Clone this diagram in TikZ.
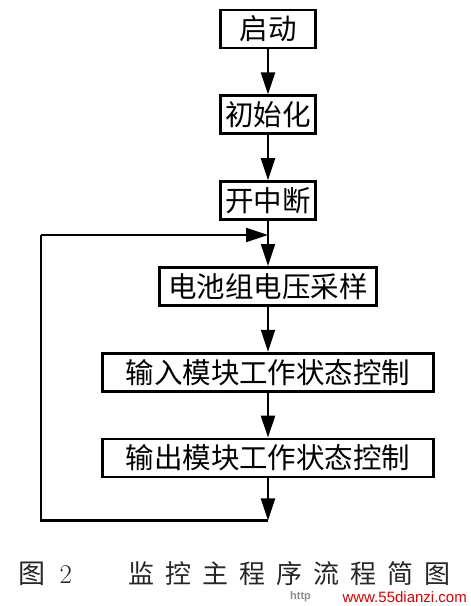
\documentclass[tikz,border=0pt]{standalone}
\usepackage{fontspec}
\newfontfamily\cjk{Noto Sans CJK SC}
\newfontfamily\wmfont{Liberation Sans}
\usetikzlibrary{arrows.meta, positioning, calc}
\tikzset{
    block_small/.style={rectangle, draw, line width=2.8pt, font=\cjk\fontsize{28.5}{28.5}\selectfont, minimum width=95pt, minimum height=38pt, inner sep=0pt},
    block_mid/.style={block_small, minimum width=217pt},
    block_wide/.style={block_small, minimum width=331pt},
    arrow/.style={-{Triangle[width=14pt,length=22pt]}, line width=2.2pt},
    line/.style={line width=2.2pt}
}

\begin{document}
\begin{tikzpicture}[node distance=45pt]
			\useasboundingbox (0,0) rectangle (471pt,-606pt);
			\node (start) [block_small] at (268pt,-29pt) {启动};
			\node (init) [block_small, below=of start] {初始化};
			\node (irq) [block_small, below=of init] {开中断};
			\node (volt) [block_mid, below=of irq] {电池组电压采样};
			\node (inctl) [block_wide, below=of volt] {输入模块工作状态控制};
			\node (outctl) [block_wide, below=of inctl] {输出模块工作状态控制};
			
			\coordinate (join) at ($(irq.south)+(0,-14pt)$);
			\coordinate (bot) at ($(outctl.south)+(0,-42pt)$);
			\coordinate (lft) at ($(bot)+(-227pt,0)$);
			\coordinate (back) at ($(join)+(-227pt,0)$);
			
			\draw [arrow] (start) -- (init);
			\draw [arrow] (init) -- (irq);
			\draw [arrow] (irq) -- (volt);
			\draw [arrow] (volt) -- (inctl);
			\draw [arrow] (inctl) -- (outctl);
			\draw [arrow] (outctl) -- (bot);
			\draw [line] (bot) -- (lft) -- (back);
			\draw [arrow] (back) -- (join);
			
			% caption
			\node (fig) [anchor=west, text=black!85, font=\fontsize{27}{27}\selectfont] at (15pt,-574pt) {{\cjk 图}\hspace{14pt}2};
			\node (title) [anchor=west, text=black!85, font=\cjk\fontsize{26}{26}\selectfont, inner sep=0pt] at (128pt,-574pt) {\foreach \c in {监,控,主,程,序,流,程,简,图}{\c\hspace{11pt}}};
			\node (http) [anchor=west, text=black!45, font=\wmfont\bfseries\fontsize{11}{11}\selectfont, inner sep=0pt] at (290pt,-597pt) {http};
			\node (wm) [anchor=east, text=red!85!black, font=\wmfont\fontsize{15}{15}\selectfont, inner sep=0pt] at (467pt,-597pt) {www.55dianzi.com};
		\end{tikzpicture}
\end{document}
